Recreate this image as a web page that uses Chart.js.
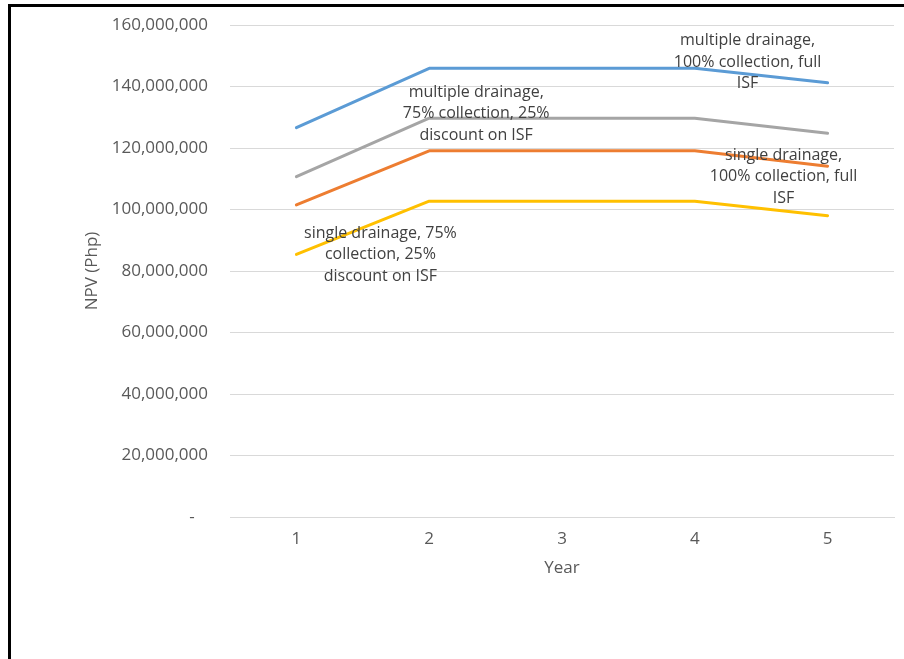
<!DOCTYPE html>
<html>
<head>
<meta charset="utf-8">
<title>NPV per year</title>
<script src="https://cdn.jsdelivr.net/npm/chart.js@4/dist/chart.umd.min.js"></script>
<style>
    html, body { margin: 0; padding: 0; background: #fff; overflow: hidden; }
    #wrap { position: relative; width: 904px; height: 659px; }
    #frame {
        position: absolute; left: 8px; top: 4px; width: 1000px; height: 1000px;
        border-left: 3px solid #000; border-top: 3px solid #000; box-sizing: border-box;
    }
    #npvChart { position: absolute; left: 0; top: 0; }
</style>
</head>
<body>
<div id="wrap">
    <div id="frame"></div>
    <canvas id="npvChart" width="904" height="659"></canvas>
</div>
<script>
const years = ['1', '2', '3', '4', '5'];

const multiFull = [126600000, 145900000, 145900000, 145900000, 141200000];
const singleFull = [101500000, 119100000, 119100000, 119100000, 114100000];
const multiDiscount = [110700000, 129700000, 129700000, 129700000, 124800000];
const singleDiscount = [85400000, 102700000, 102700000, 102700000, 98000000];

const yTicks = [0, 20000000, 40000000, 60000000, 80000000, 100000000, 120000000, 140000000, 160000000];

const seriesNames = [
    'multiple drainage, 100% collection, full ISF',
    'single drainage, 100% collection, full ISF',
    'multiple drainage, 75% collection, 25% discount on ISF',
    'single drainage, 75% collection, 25% discount on ISF'
];

// how Excel wrapped the data labels
const labelLines = [
    ['multiple drainage,', '100% collection, full', 'ISF'],
    ['single drainage,', '100% collection, full', 'ISF'],
    ['multiple drainage,', '75% collection, 25%', 'discount on ISF'],
    ['single drainage, 75%', 'collection, 25%', 'discount on ISF']
];

// label anchor: point index + pixel nudge (like a dragged Excel label)
const labelPlacement = [
    { point: 4, dx: -80, dy: -42 },
    { point: 4, dx: -44, dy: -11 },
    { point: 1, dx: 47, dy: -26 },
    { point: 0, dx: 84, dy: -21 }
];

const FONT = "'Open Sans', 'DejaVu Sans', sans-serif";

const seriesLabels = {
    id: 'seriesLabels',
    afterDatasetsDraw(chart) {
        const ctx = chart.ctx;
        ctx.save();
        ctx.font = '16px ' + FONT;
        ctx.fillStyle = '#404040';
        ctx.textAlign = 'center';
        ctx.textBaseline = 'middle';
        labelLines.forEach((lines, i) => {
            const pt = chart.getDatasetMeta(i).data[labelPlacement[i].point];
            if (!pt) return;
            const x = pt.x + labelPlacement[i].dx;
            const y = pt.y + labelPlacement[i].dy;
            lines.forEach((line, j) => ctx.fillText(line, x, y + j * 21.5));
        });
        ctx.restore();
    }
};

function makeLine(label, data, color) {
    return {
        label: label,
        data: data,
        borderColor: color,
        backgroundColor: color,
        borderWidth: 3,
        borderCapStyle: 'round',
        borderJoinStyle: 'round',
        tension: 0,
        pointRadius: 0,
        fill: false
    };
}

const ctx = document.getElementById('npvChart').getContext('2d');

new Chart(ctx, {
    type: 'line',
    data: {
        labels: years,
        datasets: [
            makeLine(seriesNames[0], multiFull, '#5B9BD5'),
            makeLine(seriesNames[1], singleFull, '#ED7D31'),
            makeLine(seriesNames[2], multiDiscount, '#A5A5A5'),
            makeLine(seriesNames[3], singleDiscount, '#FFC000')
        ]
    },
    options: {
        responsive: false,
        animation: false,
        layout: { padding: { left: 82, right: 10, top: 25, bottom: 81 } },
        plugins: {
            legend: { display: false },
            tooltip: { enabled: false }
        },
        scales: {
            x: {
                offset: true,
                grid: { display: false, drawTicks: false },
                border: { display: true, color: '#D9D9D9', width: 1 },
                ticks: { color: '#595959', padding: 12, font: { family: FONT, size: 17 } },
                title: {
                    display: true,
                    text: 'Year',
                    color: '#595959',
                    padding: 0,
                    font: { family: FONT, size: 17 }
                },
                afterFit: function(scale) { scale.height = 61; }
            },
            y: {
                min: 0,
                max: 160000000,
                afterBuildTicks: function(scale) {
                    scale.ticks = yTicks.map(v => ({ value: v }));
                },
                // invisible tick marks give the gap between labels and plot
                grid: { color: '#D9D9D9', lineWidth: 1, drawTicks: true, tickLength: 20, tickColor: 'rgba(0,0,0,0)' },
                border: { display: false },
                ticks: {
                    color: '#595959',
                    padding: 2,
                    font: { family: FONT, size: 17 },
                    callback: function(value) {
                        return value === 0 ? '-   ' : value.toLocaleString('en-US');
                    }
                },
                title: {
                    display: true,
                    text: 'NPV (Php)',
                    color: '#595959',
                    padding: 0,
                    font: { family: FONT, size: 17 }
                },
                afterFit: function(scale) { scale.width = 148; }
            }
        }
    },
    plugins: [seriesLabels]
});
</script>
</body>
</html>
